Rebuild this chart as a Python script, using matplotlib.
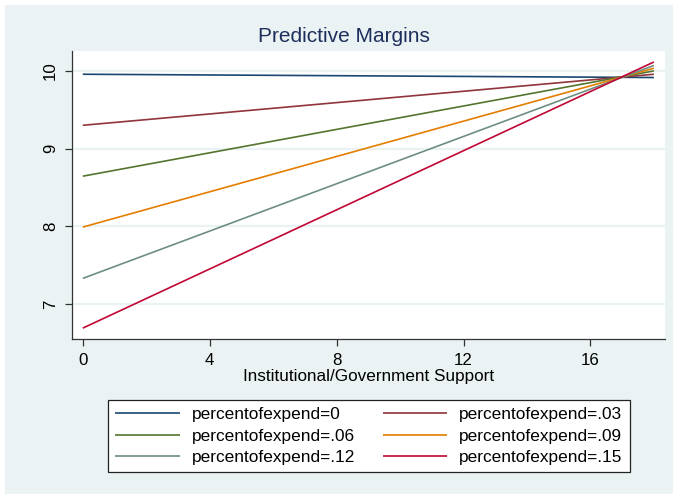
import matplotlib
matplotlib.use("Agg")
import matplotlib.pyplot as plt
from matplotlib.patches import Rectangle

# ---- data ----
x_support = [0, 18]
series_labels = ["percentofexpend=0", "percentofexpend=.03", "percentofexpend=.06",
                 "percentofexpend=.09", "percentofexpend=.12", "percentofexpend=.15"]
series_values = [
    [9.957, 9.915],
    [9.300, 9.957],
    [8.645, 10.000],
    [7.990, 10.035],
    [7.330, 10.070],
    [6.690, 10.115],
]
series_colors = ["#1A476F", "#90353B", "#55752F", "#E37E00", "#6E8E84", "#C10534"]
x_ticks = [0, 4, 8, 12, 16]
y_ticks = [7, 8, 9, 10]

plt.rcParams['font.family'] = ['Liberation Sans', 'DejaVu Sans']

W, H = 673, 494
fig = plt.figure(figsize=(W / 100, H / 100), dpi=100, facecolor="white")
BG = "#EAF2F3"
fig.patches.append(Rectangle((5 / W, 0), 1 - 5 / W, 1 - 5 / H, transform=fig.transFigure,
                             facecolor=BG, edgecolor="none", zorder=-10))

ax = fig.add_axes([72 / W, 1 - 339 / H, (665 - 72) / W, (339 - 50.7) / H])
ax.set_zorder(1)
ax.set_facecolor("white")

handles = []
for vals, lab, col in zip(series_values, series_labels, series_colors):
    h, = ax.plot(x_support, vals, color=col, lw=1.2, label=lab, solid_capstyle="butt", zorder=3)
    handles.append(h)

ax.set_xlim(-0.34, 18.35)
ax.set_ylim(6.55, 10.26)
ax.set_xticks(x_ticks)
ax.set_yticks(y_ticks)
ax.grid(axis="y", color=BG, lw=1.6, zorder=1)
ax.grid(axis="x", visible=False)
ax.set_axisbelow(True)

for s in ["top", "right"]:
    ax.spines[s].set_visible(False)
for s in ["left", "bottom"]:
    ax.spines[s].set_color("#333333")
    ax.spines[s].set_linewidth(0.9)

ax.tick_params(axis="both", direction="out", length=5, width=0.9, color="#333333",
               labelsize=12.2, labelcolor="black")
ax.tick_params(axis="y", pad=5)
ax.tick_params(axis="x", pad=5)
for t in ax.get_yticklabels():
    t.set_rotation(90)
    t.set_va("center")

ax.set_xlabel("Institutional/Government Support", fontsize=12.3, labelpad=1)
ax.set_ylabel("Linear Prediction", fontsize=12.3, color="#555555")
ax.yaxis.set_label_coords(-76 / (665 - 72), 0.5)

fig.text(344 / W, 1 - 37 / H, "Predictive Margins", fontsize=15, color="#1E2F5C",
         ha="center", va="center")

# row-wise legend order (matplotlib fills columns first)
order = [0, 2, 4, 1, 3, 5]
leg = ax.legend([handles[i] for i in order], [series_labels[i] for i in order],
                loc="center", bbox_to_anchor=(369 / W, 1 - 436 / H),
                bbox_transform=fig.transFigure, ncol=2, fontsize=12.4,
                frameon=True, fancybox=False, edgecolor="#222222", facecolor="white",
                framealpha=1, handlelength=3.75, handletextpad=0.7, columnspacing=1.6,
                labelspacing=0.36, borderpad=0.42)
leg.get_frame().set_linewidth(0.9)

fig.savefig("out.png", dpi=100, facecolor=fig.get_facecolor())
